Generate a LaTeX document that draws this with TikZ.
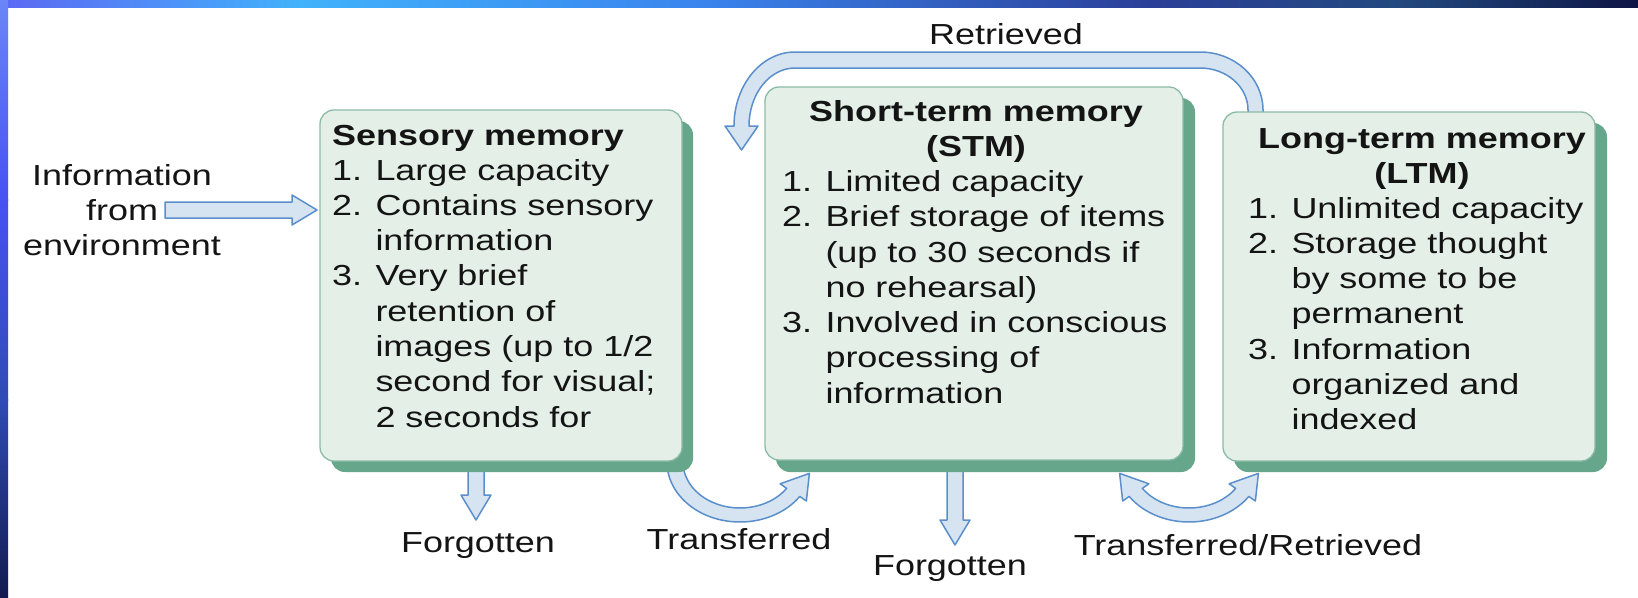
\documentclass[tikz,border=0pt]{standalone}
\usepackage{fontspec}
\setmainfont{Liberation Sans}[FakeStretch=1.24]
\definecolor{boxfill}{HTML}{E4EFE7}
\definecolor{boxline}{HTML}{8CBBA5}
\definecolor{boxshadow}{HTML}{66A68B}
\definecolor{arrfill}{HTML}{D6E4F2}
\definecolor{arrline}{HTML}{5B8FCB}
\definecolor{txtcol}{HTML}{141414}
\definecolor{tbA}{HTML}{5D68F3}
\definecolor{tbB}{HTML}{41B2FB}
\definecolor{tbC}{HTML}{3A84EE}
\definecolor{tbD}{HTML}{2B3F98}
\definecolor{tbE}{HTML}{22497F}
\definecolor{tbF}{HTML}{0E1545}
\definecolor{lbA}{HTML}{6A86F7}
\definecolor{lbB}{HTML}{4752F2}
\definecolor{lbC}{HTML}{2F4BB5}
\definecolor{lbD}{HTML}{121A50}
\newcommand\txtlines[5]{\foreach \t [count=\i from 0] in {#5}{\node[#4] (#1\i) at (#2,{#3+35.3*\i}) {\t};}}
\begin{document}
\begin{tikzpicture}[x=1pt,y=-1pt,
  txt/.style={inner sep=0pt, font=\fontsize{29}{35}\selectfont, text=txtcol},
  ttl/.style={txt, font=\fontsize{29}{35}\selectfont\bfseries},
  blk/.style={fill=arrfill, draw=arrline, line width=1.5pt, line join=round},
  membox/.style={fill=boxfill, draw=boxline, line width=1.3pt, rounded corners=14pt},
  shadowbox/.style={fill=boxshadow, rounded corners=14pt}]
\useasboundingbox (0,0) rectangle (1638,597);
\fill[white] (0,0) rectangle (1638,597);
% frame bars
\fill[left color=tbA, right color=tbB] (0,0) rectangle (300,7);
\fill[left color=tbB, right color=tbC] (299.5,0) rectangle (700,7);
\fill[left color=tbC, right color=tbD] (699.5,0) rectangle (1150,7);
\fill[left color=tbD, right color=tbE] (1149.5,0) rectangle (1400,7);
\fill[left color=tbE, right color=tbF] (1399.5,0) rectangle (1638,7);
\fill[top color=lbA, bottom color=lbB] (0,0) rectangle (8,200);
\fill[top color=lbB, bottom color=lbC] (0,199.5) rectangle (8,400);
\fill[top color=lbC, bottom color=lbD] (0,399.5) rectangle (8,597);

% block arrows (drawn under the boxes)
\draw[blk] (165,202) -- (292,202) -- (292,195) -- (317,210) -- (292,225) -- (292,218) -- (165,218) -- cycle;
\draw[blk] (468,466) -- (468,495) -- (461,495) -- (476,520) -- (491,495) -- (484,495) -- (484,466) -- cycle;
\draw[blk] (947,466) -- (947,520) -- (940,520) -- (955,545) -- (970,520) -- (963,520) -- (963,466) -- cycle;
\draw[blk] (1263,118) -- (1263,110) arc[start angle=0, end angle=-90, x radius=63, y radius=58]
  -- (795,52) arc[start angle=-90, end angle=-180, x radius=61, y radius=74]
  -- (725,126) -- (741.5,150) -- (758,126) -- (749,126)
  arc[start angle=180, end angle=270, x radius=46, y radius=58]
  -- (1200,68) arc[start angle=-90, end angle=0, x radius=48, y radius=42]
  -- (1248,118) -- cycle;
\begin{scope}[shift={(740,462)}]
\draw[blk] (185:73 and 60) arc[start angle=185, end angle=35, x radius=73, y radius=60]
  -- (35:81 and 68) -- (69.4,11.4) -- (35:49 and 38) -- (35:57 and 46)
  arc[start angle=35, end angle=185, x radius=57, y radius=46] -- cycle;
\end{scope}
\begin{scope}[shift={(1189,462)}]
\draw[blk] (145:57 and 46) -- (145:49 and 38) -- (-69.4,11.4) -- (145:81 and 68) -- (145:73 and 60)
  arc[start angle=145, end angle=35, x radius=73, y radius=60]
  -- (35:81 and 68) -- (69.4,11.4) -- (35:49 and 38) -- (35:57 and 46)
  arc[start angle=35, end angle=145, x radius=57, y radius=46] -- cycle;
\end{scope}

% boxes
\fill[shadowbox] (331,121) rectangle (693,472);
\draw[membox] (320,110) rectangle (682,461);
\fill[shadowbox] (776,98) rectangle (1195,472);
\draw[membox] (765,87) rectangle (1183,460);
\fill[shadowbox] (1234,123) rectangle (1607,472);
\draw[membox] (1223,112) rectangle (1595,461);

% sensory memory text
\node[ttl, anchor=base west] (senT) at (332,145) {Sensory memory};
\txtlines{sen}{332}{180}{txt, anchor=base west}{{1. Large capacity},{2. Contains sensory},{\phantom{2. }information},{3. Very brief},{\phantom{3. }retention of},{\phantom{3. }images (up to 1/2},{\phantom{3. }second for visual;},{\phantom{3. }2 seconds for}}

% STM text
\node[ttl, anchor=base] (stmT) at (976,121) {Short-term memory};
\node[ttl, anchor=base] (stmU) at (976,156) {(STM)};
\txtlines{stm}{782}{191.4}{txt, anchor=base west}{{1. Limited capacity},{2. Brief storage of items},{\phantom{2. }(up to 30 seconds if},{\phantom{2. }no rehearsal)},{3. Involved in conscious},{\phantom{3. }processing of},{\phantom{3. }information}}

% LTM text
\node[ttl, anchor=base] (ltmT) at (1422,148) {Long-term memory};
\node[ttl, anchor=base] (ltmU) at (1422,183) {(LTM)};
\txtlines{ltm}{1248}{218}{txt, anchor=base west}{{1. Unlimited capacity},{2. Storage thought},{\phantom{2. }by some to be},{\phantom{2. }permanent},{3. Information},{\phantom{3. }organized and},{\phantom{3. }indexed}}

% outside labels
\txtlines{env}{122}{185}{txt, anchor=base}{{Information},{from},{environment}}
\node[txt, anchor=base] (fg1) at (478,552) {Forgotten};
\node[txt, anchor=base] (tr1) at (739,549) {Transferred};
\node[txt, anchor=base] (fg2) at (950,575) {Forgotten};
\node[txt, anchor=base] (tr2) at (1248,555) {Transferred/Retrieved};
\node[txt, anchor=base] (ret) at (1006,44) {Retrieved};
\end{tikzpicture}
\end{document}
